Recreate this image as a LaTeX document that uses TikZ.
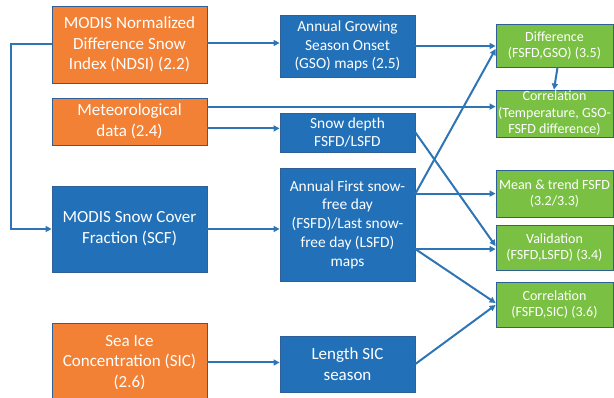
\documentclass[tikz,border=0pt]{standalone}
\usepackage{fontspec}
\setmainfont{Carlito}
\usetikzlibrary{arrows.meta,calc}
\definecolor{boxorange}{HTML}{F28035}
\definecolor{boxblue}{HTML}{2271B8}
\definecolor{boxgreen}{HTML}{7AC143}
\definecolor{edgeblue}{HTML}{2F5F96}
\definecolor{linkblue}{HTML}{2E75B6}
\begin{document}
\begin{tikzpicture}[x=1pt,y=-1pt,
  box/.style={draw=edgeblue,line width=0.8pt,text=white,align=center,inner sep=0pt},
  obox/.style={box,fill=boxorange,minimum width=155pt,font=\fontsize{17}{20.7}\selectfont},
  lbbox/.style={box,fill=boxblue,minimum width=155pt,font=\fontsize{17}{20.7}\selectfont},
  bbox/.style={box,fill=boxblue,minimum width=135pt,font=\fontsize{15.4}{18.8}\selectfont},
  gbox/.style={box,fill=boxgreen,minimum width=117pt,font=\fontsize{14}{16.6}\selectfont},
  link/.style={draw=linkblue,line width=2pt,-{Triangle[length=6pt,width=6pt]}}]
\useasboundingbox (0,0) rectangle (614,398);
% left column
\node[obox,minimum height=77pt] (ndsi) at (129.5,44.5) {MODIS Normalized\\Difference Snow\\Index (NDSI) (2.2)};
\node[obox,minimum height=47pt] (met) at (129.5,121.5) {Meteorological\\data (2.4)};
\node[lbbox,minimum height=86pt] (scf) at (129.5,229) {MODIS Snow Cover\\Fraction (SCF)};
\node[obox,minimum height=79pt] (sic) at (129.5,362.5) {Sea Ice\\Concentration (SIC)\\(2.6)};
% middle column
\node[bbox,minimum height=62pt] (gso) at (347.5,46) {Annual Growing\\Season Onset\\(GSO) maps (2.5)};
\node[bbox,minimum height=39pt] (snowd) at (347.5,132.5) {Snow depth\\FSFD/LSFD};
\node[bbox,minimum height=113pt] (fsfd) at (347.5,224.5) {Annual First snow-\\free day\\(FSFD)/Last snow-\\free day (LSFD)\\maps};
\node[bbox,minimum height=56pt,font=\fontsize{17}{20.7}\selectfont] (lensic) at (347.5,364) {Length SIC\\season};
% right column
\node[gbox,minimum height=43pt] (diff) at (554.5,45.5) {Difference\\(FSFD,GSO) (3.5)};
\node[gbox,minimum height=47pt] (corrt) at (554.5,113.5) {Correlation\\(Temperature, GSO-\\FSFD difference)};
\node[gbox,minimum height=47pt] (mean) at (554.5,193.5) {Mean \& trend FSFD\\(3.2/3.3)};
\node[gbox,minimum height=45pt] (valid) at (554.5,247.5) {Validation\\(FSFD,LSFD) (3.4)};
\node[gbox,minimum height=45pt] (corrs) at (554.5,304.5) {Correlation\\(FSFD,SIC) (3.6)};
% connectors
\coordinate (lb) at ($(ndsi.west)+(-41,0)$);
\draw[link] (ndsi.west) -- (lb) |- (scf.west);
\coordinate (ne) at ($(ndsi.east)+(0,-1.5)$);
\draw[link] (ne) -- (ne -| gso.west);
\coordinate (mt) at ($(met.north east)+(0,9)$);
\draw[link] (mt) -- (mt -| corrt.west);
\coordinate (mb) at ($(met.south east)+(0,-17)$);
\draw[link] (mb) -- (mb -| snowd.west);
\draw[link] (scf.east) -- (scf.east -| fsfd.west);
\draw[link] (sic.east) -- (sic.east -| lensic.west);
\draw[link] (gso.east) -- (gso.east -| diff.west);
\coordinate (ds) at ($(diff.south)+(3,0)$);
\coordinate (cn) at ($(corrt.north)+(-0.5,0)$);
\draw[link] (ds) -- (cn);
\coordinate (vw) at ($(valid.west)+(0,-1.5)$);
\draw[link] (snowd.east) -- (vw);
\coordinate (fa) at ($(fsfd.north east)+(0,26)$);
\coordinate (dw) at ($(diff.west)+(0,3.5)$);
\draw[link] (fa) -- (dw);
\draw[link] (fa) -- (fa -| mean.west);
\coordinate (fb) at ($(fsfd.north east)+(0,81.5)$);
\draw[link] (fb) -- (fb -| valid.west);
\coordinate (cw1) at ($(corrs.west)+(0,-1.5)$);
\coordinate (cw2) at ($(corrs.west)+(0,0.5)$);
\draw[link] (fb) -- (cw1);
\draw[link] (lensic.east) -- (cw2);
\end{tikzpicture}
\end{document}
